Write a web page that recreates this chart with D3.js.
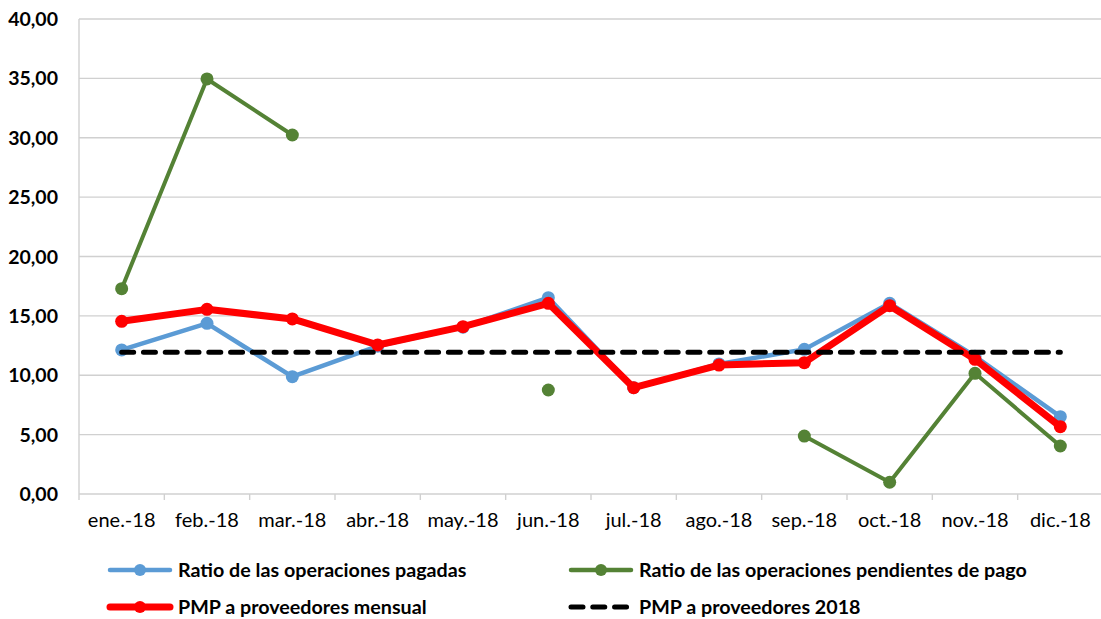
<!DOCTYPE html>
<html><head><meta charset="utf-8">
<script src="https://cdn.jsdelivr.net/npm/d3@7"></script>
<style>body{margin:0;background:#fff}svg{display:block}</style>
</head><body>
<script>
const categories = ["ene.-18","feb.-18","mar.-18","abr.-18","may.-18","jun.-18","jul.-18","ago.-18","sep.-18","oct.-18","nov.-18","dic.-18"];
const pagadas    = [12.13,14.37,9.88,12.45,14.05,16.53,8.95,10.95,12.18,16.06,11.60,6.51];
const pendientes = [17.29,34.95,30.23,null,null,8.76,null,null,4.88,0.99,10.16,4.04];
const mensual    = [14.54,15.55,14.74,12.55,14.09,16.06,8.95,10.86,11.06,15.86,11.34,5.67];
const anual      = 11.93;
const yTicks = [0,5,10,15,20,25,30,35,40];
const seriesNames = ["Ratio de las operaciones pagadas","Ratio de las operaciones pendientes de pago","PMP a proveedores mensual","PMP a proveedores 2018"];

const W=1101,H=619;
const svg=d3.select("body").append("svg").attr("width",W).attr("height",H);
const x=d3.scaleBand().domain(categories).range([79,1103]);
const y=d3.scaleLinear().domain([0,40]).range([494,19]);
const cx=c=>x(c)+x.bandwidth()/2;
const font="Lato, 'Open Sans', sans-serif";
const dash="12,9.78";

// gridlines
svg.append("g").selectAll("line").data(yTicks).join("line")
  .attr("x1",79).attr("x2",1103).attr("y1",d=>y(d)).attr("y2",d=>y(d))
  .attr("stroke","#d0d0d0").attr("stroke-width",1.4);
svg.append("line").attr("x1",79).attr("x2",79).attr("y1",y(40)).attr("y2",y(0))
  .attr("stroke","#d0d0d0").attr("stroke-width",1.4);

// y labels
svg.append("g").selectAll("text").data(yTicks).join("text")
  .attr("x",58).attr("y",d=>y(d)).attr("dy","0.36em").attr("text-anchor","end")
  .attr("font-family",font).attr("font-weight","bold").attr("font-size",19.5).attr("fill","#000")
  .text(d=>d3.format(".2f")(d).replace(".",","));

// x axis
const xa=d3.axisBottom(x).tickSize(6).tickSizeOuter(0).tickFormat(d=>d);
const gx=svg.append("g").attr("transform","translate(0,494)").call(xa);
gx.select(".domain").remove();
gx.selectAll(".tick line").attr("stroke","#d0d0d0").attr("stroke-width",1.4)
  .attr("transform",`translate(${-x.bandwidth()/2},0)`);
gx.selectAll(".tick text").attr("y",19).attr("dy","0.71em").attr("font-family",font).attr("font-size",20).attr("fill","#000");

function drawSeries(vals,color,lw,r){
  const data=categories.map((c,i)=>({c,v:vals[i]}));
  const line=d3.line().defined(d=>d.v!=null).x(d=>cx(d.c)).y(d=>y(d.v));
  svg.append("path").datum(data).attr("d",line).attr("fill","none").attr("stroke",color)
    .attr("stroke-width",lw).attr("stroke-linejoin","round");
  svg.append("g").selectAll("circle").data(data.filter(d=>d.v!=null)).join("circle")
    .attr("cx",d=>cx(d.c)).attr("cy",d=>y(d.v)).attr("r",r).attr("fill",color);
}
drawSeries(pendientes,"#548235",4,6.5);
drawSeries(pagadas,"#5b9bd5",4.5,6.5);
drawSeries(mensual,"#ff0000",7,6.5);

// annual dashed line
svg.append("line").attr("x1",cx(categories[0])).attr("x2",cx(categories[11]))
  .attr("y1",y(anual)).attr("y2",y(anual)).attr("stroke","#000").attr("stroke-width",5)
  .attr("stroke-dasharray",dash).attr("stroke-linecap","round");

// legend
const leg=[{n:seriesNames[0],c:"#5b9bd5",lw:4.5,x:108,y:570,m:true},
           {n:seriesNames[1],c:"#548235",lw:4.5,x:569,y:570,m:true},
           {n:seriesNames[2],c:"#ff0000",lw:7,x:108,y:607,m:true},
           {n:seriesNames[3],c:"#000",lw:5,x:569,y:607,m:false}];
leg.forEach(l=>{
  const g=svg.append("g");
  const ln=g.append("line").attr("x1",l.x+2).attr("x2",l.x+62).attr("y1",l.y).attr("y2",l.y)
    .attr("stroke",l.c).attr("stroke-width",l.lw).attr("stroke-linecap","round");
  if(l.m) g.append("circle").attr("cx",l.x+32).attr("cy",l.y).attr("r",6).attr("fill",l.c);
  else ln.attr("stroke-dasharray",dash);
  g.append("text").attr("x",l.x+70).attr("y",l.y).attr("dy","0.36em")
    .attr("font-family",font).attr("font-weight","bold").attr("font-size",19.7).attr("fill","#000").text(l.n);
});
</script>
</body></html>
